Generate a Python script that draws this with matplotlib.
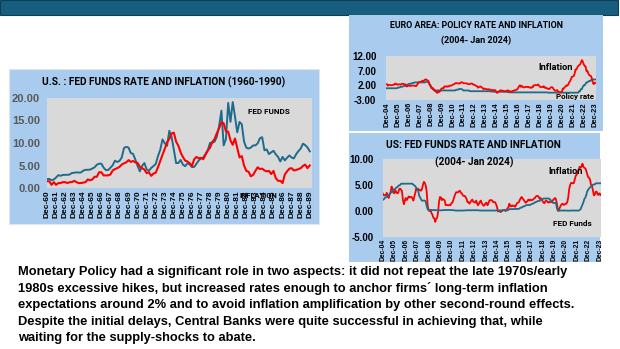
import matplotlib
matplotlib.use("Agg")
import matplotlib.pyplot as plt
from matplotlib.patches import Rectangle
from matplotlib import font_manager

# ---------------- DATA ----------------
# U.S. 1960-1990, quarterly readings starting Dec-1960 (Dec, Mar, Jun, Sep ...)
hist_fed_funds = [
    1.98,
    2.02, 1.73, 1.88, 2.33,
    2.85, 2.71, 2.90, 2.93,
    2.92, 3.00, 3.34, 3.38,
    3.48, 3.43, 3.45, 3.85,
    4.04, 4.04, 4.08, 4.32,
    4.60, 5.17, 5.40, 5.40,
    4.53, 3.98, 3.99, 4.51,
    5.05, 6.07, 5.78, 6.02,
    6.79, 8.90, 9.15, 8.97,
    7.76, 7.60, 6.29, 4.90,
    3.71, 4.91, 5.55, 4.14,
    3.83, 4.46, 4.87, 5.33,
    7.09, 8.49, 10.78, 9.95,
    9.35, 12.70, 11.34, 8.53,
    5.54, 5.55, 6.24, 5.20,
    4.84, 5.48, 5.25, 4.65,
    4.69, 5.39, 6.14, 6.56,
    6.79, 7.60, 8.45, 10.03,
    10.09, 10.29, 11.43, 13.78,
    17.19, 9.47, 10.87, 18.90,
    14.70, 19.10, 15.87, 12.37,
    14.68, 14.15, 10.31, 8.95,
    8.77, 8.98, 9.45, 9.47,
    9.91, 11.06, 11.30, 8.38,
    8.58, 7.53, 7.92, 8.27,
    7.48, 6.92, 5.89, 6.91,
    6.13, 6.73, 7.22, 6.77,
    6.58, 7.51, 8.19, 8.76,
    9.85, 9.53, 9.02, 8.15,
]
hist_inflation = [
    1.5,
    1.5, 0.7, 1.3, 0.7,
    1.1, 1.1, 1.3, 1.3,
    1.1, 1.3, 1.3, 1.6,
    1.3, 1.1, 1.1, 1.2,
    1.3, 1.9, 1.7, 1.9,
    2.5, 2.5, 3.5, 3.5,
    2.8, 2.8, 2.8, 3.0,
    3.9, 4.2, 4.4, 4.7,
    5.2, 5.5, 5.7, 6.2,
    5.8, 6.0, 5.7, 5.6,
    4.7, 4.4, 4.1, 3.3,
    3.5, 2.7, 3.2, 3.4,
    4.6, 6.0, 7.4, 8.7,
    10.2, 10.9, 12.1, 12.3,
    10.3, 9.4, 7.9, 6.9,
    6.1, 5.9, 5.5, 4.9,
    6.4, 6.9, 6.6, 6.7,
    6.4, 7.4, 8.3, 9.0,
    10.2, 10.9, 12.2, 13.3,
    14.6, 14.4, 12.6, 12.5,
    10.6, 9.6, 11.0, 8.9,
    6.8, 7.1, 5.0, 3.8,
    3.6, 2.6, 2.9, 3.8,
    4.6, 4.2, 4.3, 3.9,
    3.7, 3.8, 3.1, 3.8,
    2.2, 1.6, 1.6, 1.1,
    3.0, 3.7, 4.3, 4.4,
    3.9, 4.0, 4.2, 4.4,
    4.9, 5.2, 4.4, 5.0,
]
hist_labels = ["Dec-%02d" % (y % 100) for y in range(1960, 1990)]

# Euro area, monthly Dec-2004 .. Jan-2024
ea_inflation = [
    2.4,
    1.9, 2.1, 2.1, 2.1, 2.0, 2.1, 2.2, 2.2, 2.6, 2.5, 2.3, 2.2,
    2.4, 2.3, 2.2, 2.5, 2.5, 2.5, 2.4, 2.3, 1.7, 1.6, 1.9, 1.9,
    1.8, 1.8, 1.9, 1.9, 1.9, 1.9, 1.8, 1.7, 2.1, 2.6, 3.1, 3.1,
    3.2, 3.3, 3.6, 3.3, 3.7, 4.0, 4.0, 3.8, 3.6, 3.2, 2.1, 1.6,
    1.1, 1.2, 0.6, 0.6, 0.0, -0.1, -0.6, -0.2, -0.3, -0.1, 0.5, 0.9,
    1.0, 0.9, 1.6, 1.6, 1.7, 1.5, 1.7, 1.6, 1.9, 1.9, 1.9, 2.2,
    2.3, 2.4, 2.7, 2.8, 2.7, 2.7, 2.6, 2.6, 3.0, 3.0, 3.0, 2.7,
    2.7, 2.7, 2.7, 2.6, 2.4, 2.4, 2.4, 2.6, 2.6, 2.5, 2.2, 2.2,
    2.0, 1.8, 1.7, 1.2, 1.4, 1.6, 1.6, 1.3, 1.1, 0.7, 0.9, 0.8,
    0.7, 0.7, 0.5, 0.7, 0.5, 0.5, 0.4, 0.4, 0.3, 0.4, 0.3, -0.2,
    -0.6, -0.3, -0.1, 0.2, 0.3, 0.2, 0.2, 0.1, -0.1, 0.1, 0.1, 0.2,
    0.3, -0.2, 0.0, -0.2, -0.1, 0.1, 0.2, 0.2, 0.4, 0.5, 0.6, 1.1,
    1.7, 2.0, 1.5, 1.9, 1.4, 1.3, 1.3, 1.5, 1.5, 1.4, 1.5, 1.3,
    1.3, 1.1, 1.4, 1.3, 2.0, 2.0, 2.1, 2.0, 2.1, 2.3, 1.9, 1.5,
    1.4, 1.5, 1.4, 1.7, 1.2, 1.3, 1.0, 1.0, 0.8, 0.7, 1.0, 1.3,
    1.4, 1.2, 0.7, 0.3, 0.1, 0.3, 0.4, -0.2, -0.3, -0.3, -0.3, -0.3,
    0.9, 0.9, 1.3, 1.6, 2.0, 1.9, 2.2, 3.0, 3.4, 4.1, 4.9, 5.0,
    5.1, 5.9, 7.4, 7.4, 8.1, 8.6, 8.9, 9.1, 9.9, 10.6, 10.1, 9.2,
    8.6, 8.5, 6.9, 7.0, 6.1, 5.5, 5.3, 5.2, 4.3, 2.9, 2.4, 2.9,
    2.8,
]
ea_policy_rate = [
    1.00,
    1.00, 1.00, 1.00, 1.00, 1.00, 1.00, 1.00, 1.00, 1.00, 1.00, 1.00, 1.25,
    1.25, 1.25, 1.50, 1.50, 1.50, 1.75, 1.75, 2.00, 2.00, 2.25, 2.25, 2.50,
    2.50, 2.50, 2.75, 2.75, 2.75, 3.00, 3.00, 3.00, 3.00, 3.00, 3.00, 3.00,
    3.00, 3.00, 3.00, 3.00, 3.00, 3.00, 3.25, 3.25, 3.25, 2.75, 2.25, 2.00,
    1.00, 1.00, 0.50, 0.25, 0.25, 0.25, 0.25, 0.25, 0.25, 0.25, 0.25, 0.25,
    0.25, 0.25, 0.25, 0.25, 0.25, 0.25, 0.25, 0.25, 0.25, 0.25, 0.25, 0.25,
    0.25, 0.25, 0.25, 0.50, 0.50, 0.50, 0.75, 0.75, 0.75, 0.75, 0.50, 0.25,
    0.25, 0.25, 0.25, 0.25, 0.25, 0.25, 0.00, 0.00, 0.00, 0.00, 0.00, 0.00,
    0.00, 0.00, 0.00, 0.00, 0.00, 0.00, 0.00, 0.00, 0.00, 0.00, 0.00, 0.00,
    0.00, 0.00, 0.00, 0.00, 0.00, -0.10, -0.10, -0.10, -0.20, -0.20, -0.20, -0.20,
    -0.20, -0.20, -0.20, -0.20, -0.20, -0.20, -0.20, -0.20, -0.20, -0.20, -0.20, -0.30,
    -0.30, -0.30, -0.40, -0.40, -0.40, -0.40, -0.40, -0.40, -0.40, -0.40, -0.40, -0.40,
    -0.40, -0.40, -0.40, -0.40, -0.40, -0.40, -0.40, -0.40, -0.40, -0.40, -0.40, -0.40,
    -0.40, -0.40, -0.40, -0.40, -0.40, -0.40, -0.40, -0.40, -0.40, -0.40, -0.40, -0.40,
    -0.40, -0.40, -0.40, -0.40, -0.40, -0.40, -0.40, -0.40, -0.50, -0.50, -0.50, -0.50,
    -0.50, -0.50, -0.50, -0.50, -0.50, -0.50, -0.50, -0.50, -0.50, -0.50, -0.50, -0.50,
    -0.50, -0.50, -0.50, -0.50, -0.50, -0.50, -0.50, -0.50, -0.50, -0.50, -0.50, -0.50,
    -0.50, -0.50, -0.50, -0.50, -0.50, -0.50, 0.00, 0.00, 0.75, 0.75, 1.50, 2.00,
    2.00, 2.50, 3.00, 3.00, 3.25, 3.50, 3.50, 3.75, 4.00, 4.00, 4.00, 4.00,
    4.00,
]

# United States, monthly Dec-2004 .. Jan-2024
us_inflation = [
    3.3,
    3.0, 3.0, 3.1, 3.5, 2.8, 2.5, 3.2, 3.6, 4.7, 4.3, 3.5, 3.4,
    4.0, 3.6, 3.4, 3.5, 4.2, 4.3, 4.1, 3.8, 2.1, 1.3, 2.0, 2.5,
    2.1, 2.4, 2.8, 2.6, 2.7, 2.7, 2.4, 2.0, 2.8, 3.5, 4.3, 4.1,
    4.3, 4.0, 4.0, 3.9, 4.2, 5.0, 5.6, 5.4, 4.9, 3.7, 1.1, 0.1,
    0.0, 0.2, -0.4, -0.7, -1.3, -1.4, -2.1, -1.5, -1.3, -0.2, 1.8, 2.7,
    2.6, 2.1, 2.3, 2.2, 2.0, 1.1, 1.2, 1.1, 1.1, 1.2, 1.1, 1.5,
    1.6, 2.1, 2.7, 3.2, 3.6, 3.6, 3.6, 3.8, 3.9, 3.5, 3.4, 3.0,
    2.9, 2.9, 2.7, 2.3, 1.7, 1.7, 1.4, 1.7, 2.0, 2.2, 1.8, 1.7,
    1.6, 2.0, 1.5, 1.1, 1.4, 1.8, 2.0, 1.5, 1.2, 1.0, 1.2, 1.5,
    1.6, 1.1, 1.5, 2.0, 2.1, 2.1, 2.0, 1.7, 1.7, 1.7, 1.3, 0.8,
    -0.1, 0.0, -0.1, -0.2, 0.0, 0.1, 0.2, 0.2, 0.0, 0.2, 0.5, 0.7,
    1.4, 1.0, 0.9, 1.1, 1.0, 1.0, 0.8, 1.1, 1.5, 1.6, 1.7, 2.1,
    2.5, 2.7, 2.4, 2.2, 1.9, 1.6, 1.7, 1.9, 2.2, 2.0, 2.2, 2.1,
    2.1, 2.2, 2.4, 2.5, 2.8, 2.9, 2.9, 2.7, 2.3, 2.5, 2.2, 1.9,
    1.6, 1.5, 1.9, 2.0, 1.8, 1.6, 1.8, 1.7, 1.7, 1.8, 2.1, 2.3,
    2.5, 2.3, 1.5, 0.3, 0.1, 0.6, 1.0, 1.3, 1.4, 1.2, 1.2, 1.4,
    1.4, 1.7, 2.6, 4.2, 5.0, 5.4, 5.4, 5.3, 5.4, 6.2, 6.8, 7.0,
    7.5, 7.9, 8.5, 8.3, 8.6, 9.1, 8.5, 8.3, 8.2, 7.7, 7.1, 6.5,
    6.4, 6.0, 5.0, 4.9, 4.0, 3.0, 3.2, 3.7, 3.7, 3.2, 3.1, 3.4,
    3.1,
]
us_fed_funds = [
    2.16,
    2.28, 2.50, 2.63, 2.79, 3.00, 3.04, 3.26, 3.50, 3.62, 3.78, 4.00, 4.16,
    4.29, 4.49, 4.59, 4.79, 4.94, 4.99, 5.24, 5.25, 5.25, 5.25, 5.25, 5.24,
    5.25, 5.26, 5.26, 5.25, 5.25, 5.25, 5.26, 5.02, 4.94, 4.76, 4.49, 4.24,
    3.94, 2.98, 2.61, 2.28, 1.98, 2.00, 2.01, 2.00, 1.81, 0.97, 0.39, 0.16,
    0.15, 0.22, 0.18, 0.15, 0.18, 0.21, 0.16, 0.16, 0.15, 0.12, 0.12, 0.12,
    0.11, 0.13, 0.16, 0.20, 0.20, 0.18, 0.18, 0.19, 0.19, 0.19, 0.19, 0.18,
    0.17, 0.16, 0.14, 0.10, 0.09, 0.09, 0.07, 0.10, 0.08, 0.07, 0.08, 0.07,
    0.08, 0.10, 0.13, 0.14, 0.16, 0.16, 0.16, 0.13, 0.14, 0.16, 0.16, 0.16,
    0.14, 0.15, 0.14, 0.15, 0.11, 0.09, 0.09, 0.08, 0.08, 0.09, 0.08, 0.09,
    0.07, 0.07, 0.08, 0.09, 0.09, 0.10, 0.09, 0.09, 0.09, 0.09, 0.09, 0.12,
    0.11, 0.11, 0.11, 0.12, 0.12, 0.13, 0.13, 0.14, 0.14, 0.12, 0.12, 0.24,
    0.34, 0.38, 0.36, 0.37, 0.37, 0.38, 0.39, 0.40, 0.40, 0.40, 0.41, 0.54,
    0.65, 0.66, 0.79, 0.90, 0.91, 1.04, 1.15, 1.16, 1.15, 1.15, 1.16, 1.30,
    1.41, 1.42, 1.51, 1.69, 1.70, 1.82, 1.91, 1.91, 1.95, 2.19, 2.20, 2.27,
    2.40, 2.40, 2.41, 2.42, 2.39, 2.38, 2.40, 2.13, 2.04, 1.83, 1.55, 1.55,
    1.55, 1.58, 0.65, 0.05, 0.05, 0.08, 0.09, 0.10, 0.09, 0.09, 0.09, 0.09,
    0.09, 0.08, 0.07, 0.07, 0.06, 0.08, 0.10, 0.09, 0.08, 0.08, 0.08, 0.08,
    0.08, 0.08, 0.20, 0.33, 0.77, 1.21, 1.68, 2.33, 2.56, 3.08, 3.78, 4.10,
    4.33, 4.57, 4.65, 4.83, 5.06, 5.08, 5.12, 5.33, 5.33, 5.33, 5.33, 5.33,
    5.33,
]
recent_labels = ["Dec-%02d" % (y % 100) for y in range(2004, 2024)]

body_lines = [
    "Monetary Policy had a significant role in two aspects: it did not repeat the late 1970s/early",
    "1980s excessive hikes, but increased rates enough to anchor firms\u00b4 long-term inflation",
    "expectations around 2% and to avoid inflation amplification by other second-round effects.",
    "Despite the initial delays, Central Banks were quite successful in achieving that, while",
    "waiting for the supply-shocks to abate.",
]

# ---------------- STYLE ----------------
W, H = 620, 349
TEAL = "#1f6b8c"
RED = "#ff0000"
PANEL = "#a9cbee"
PLOTBG = "#d9d9d9"
BAR = "#165d7e"

names = {f.name for f in font_manager.fontManager.ttflist}
if "Liberation Sans Narrow" in names:
    NARROW = "Liberation Sans Narrow"
elif "Roboto" in names:
    NARROW = "Roboto"
else:
    NARROW = "Liberation Sans"
ARIAL = "Liberation Sans"

fig = plt.figure(figsize=(6.2, 3.49), dpi=100)
fig.patch.set_facecolor("white")
renderer = fig.canvas.get_renderer()


def frac_rect(x0, y0, x1, y1):
    return [x0 / W, 1 - y1 / H, (x1 - x0) / W, (y1 - y0) / H]


def box(x0, y0, x1, y1, color, ec="none", lw=0):
    r = Rectangle((x0 / W, 1 - y1 / H), (x1 - x0) / W, (y1 - y0) / H,
                  transform=fig.transFigure, facecolor=color, edgecolor=ec,
                  lw=lw, zorder=-1)
    fig.add_artist(r)


def ftext(x, y, s, target_w=None, size=8, **kw):
    kw.setdefault("fontweight", "bold")
    kw.setdefault("va", "center")
    t = fig.text(x / W, 1 - y / H, s, fontsize=size, zorder=6, **kw)
    if target_w:
        w = t.get_window_extent(renderer).width
        t.set_fontsize(size * target_w / w)
    return t


def style_axes(ax, ylim, yticks, ylab_color, ysize, labels, xsize, xlim, ypad):
    ax.set_facecolor(PLOTBG)
    for s in ax.spines.values():
        s.set_visible(False)
    ax.set_ylim(*ylim)
    ax.set_yticks(yticks)
    ax.set_yticklabels(["%.2f" % v for v in yticks], fontsize=ysize,
                       fontweight="bold", color=ylab_color, family=ARIAL)
    ax.set_xlim(*xlim)
    ax.set_xticks([12 * i for i in range(len(labels))])
    ax.set_xticklabels(labels, rotation=90, fontsize=xsize,
                       fontweight="bold", family=ARIAL)
    ax.tick_params(axis="both", length=0)
    ax.tick_params(axis="y", pad=ypad)
    ax.tick_params(axis="x", pad=1.5)


# ---------------- BACKGROUND ----------------
box(0, 0, 618, 15, BAR, ec="#0e3f57", lw=0.8)
box(9, 69, 319, 224, PANEL, ec="#dfe6ee", lw=0.8)
box(349, 15, 603, 131, PANEL)
box(349, 133, 600, 262, PANEL)

# ---------------- LEFT: US 1960-1990 ----------------
ax1 = fig.add_axes(frac_rect(47, 98, 312, 188))
x_hist = [3 * i for i in range(len(hist_fed_funds))]
ax1.plot(x_hist, hist_fed_funds, color=TEAL, lw=1.4, solid_joinstyle="round")
ax1.plot(x_hist, hist_inflation, color=RED, lw=1.5, solid_joinstyle="round")
style_axes(ax1, (0, 20), [0, 5, 10, 15, 20], "#595959", 8.0, hist_labels, 6.0,
           (0, 351), 5)

ftext(164, 82, "U.S. : FED FUNDS RATE AND INFLATION (1960-1990)", 243, 9,
      ha="center", family=NARROW)
ftext(248, 112, "FED FUNDS", 42, 6, ha="left", family=NARROW)
ftext(240, 196, "INFLATION", 38, 6, ha="left", family=NARROW)

# ---------------- EURO AREA ----------------
ax2 = fig.add_axes(frac_rect(386, 56, 596, 100))
x_rec = list(range(len(ea_inflation)))
ax2.plot(x_rec, ea_policy_rate, color=TEAL, lw=1.3)
ax2.plot(x_rec, ea_inflation, color=RED, lw=1.3)
style_axes(ax2, (-3, 12), [-3, 2, 7, 12], "black", 7.0, recent_labels, 5.4,
           (-1, 229.5), 7)

ftext(476, 26, "EURO AREA: POLICY RATE AND INFLATION", 175, 8, ha="center",
      family=NARROW)
ftext(476, 40, "(2004- Jan 2024)", 70, 8, ha="center", family=NARROW)
ftext(538, 68, "Inflation", 35, 7, ha="left", family=NARROW)
ftext(556, 96, "Policy rate", 39, 6, ha="left", family=NARROW)

# ---------------- US 2004-2024 ----------------
ax3 = fig.add_axes(frac_rect(383, 159, 601, 237))
ax3.plot(x_rec, us_inflation, color=RED, lw=1.3)
ax3.plot(x_rec, us_fed_funds, color=TEAL, lw=1.3)
style_axes(ax3, (-5, 10), [-5, 0, 5, 10], "black", 7.0, recent_labels, 4.9,
           (0, 229.5), 7)

ftext(473, 145, "US: FED FUNDS RATE AND INFLATION", 176, 8, ha="center",
      family=NARROW)
ftext(474, 162, "(2004- Jan 2024)", 78, 8, ha="center", family=NARROW)
ftext(548, 172, "Inflation", 35, 7, ha="left", family=NARROW)
ftext(553, 223, "FED Funds", 39, 6, ha="left", family=NARROW)

# ---------------- BODY TEXT ----------------
t0 = ftext(18, 272, body_lines[0], 553, 9, ha="left", family=ARIAL)
body_size = t0.get_fontsize()
for i, line in enumerate(body_lines[1:], start=1):
    ftext(18, 272 + 16.5 * i, line, None, body_size, ha="left", family=ARIAL)

fig.savefig("out.png", dpi=100, facecolor="white")
